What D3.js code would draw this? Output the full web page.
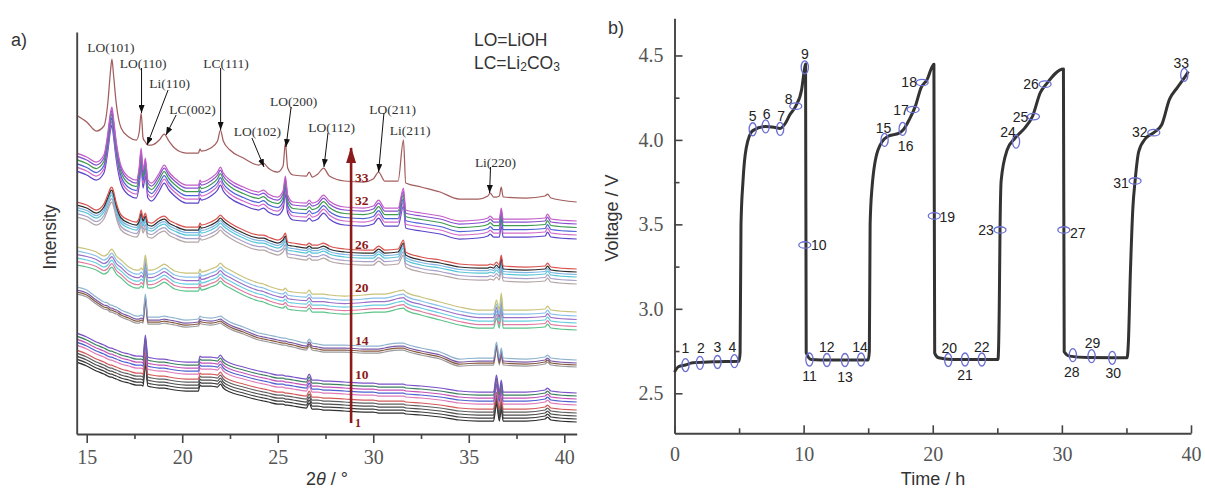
<!DOCTYPE html>
<html><head><meta charset="utf-8">
<script src="https://cdn.jsdelivr.net/npm/d3@7"></script>
<style>body{margin:0;background:#fff} svg{display:block}</style>
</head><body>
<svg id="chart" width="1205" height="489"></svg>
<script>
// ---------- Panel a: XRD patterns (intensity in arbitrary units) ----------
const twoTheta = [14.45,15.0,15.5,15.9,16.1,16.25,16.32,16.4,16.55,16.8,
  17.2,17.6,17.75,17.85,17.95,18.07,18.2,18.4,18.8,19.06,
  19.3,19.6,20.2,20.85,20.93,21.0,21.5,21.85,22.0,22.15,
  22.5,23.2,24.0,24.25,24.5,25.0,25.28,25.4,25.52,25.8,
  26.5,26.65,26.8,27.1,27.4,27.7,28.5,29.5,30.0,30.28,
  30.6,31.3,31.58,31.7,32.5,33.5,34.5,35.5,36.0,36.12,
  36.3,36.45,36.6,36.7,36.8,38.0,39.0,39.12,39.3,40.65];

const xrd33 = [319,312,303,308,330,364,375,360,330,306,
  297,294,302,321,296,292,289,289,294,300,
  293,286,281,281,285,283,286,293,304,293,
  284,276,269,271,266,262,268,291,266,259,
  258,262,257,260,266,258,253,252,255,262,
  253,253,294,251,247,242,235,235,238,241,
  237,237,238,247,237,236,238,240,236,232];

const xrd27to32 = [281,277,272,279,300,322,327,316,292,268,
  257,254,267,286,264,276,254,251,261,269,
  262,256,249,249,254,252,256,262,267,261,
  254,247,242,244,240,237,243,258,239,232,
  231,234,231,233,239,233,227,226,228,234,
  226,226,246,224,221,218,213,214,216,218,
  215,215,215,226,215,215,216,220,215,213];

const xrd21to26 = [232,229,224,230,239,246,247,243,231,219,
  214,212,216,224,216,221,212,211,216,218,
  214,211,207,207,211,209,212,216,219,216,
  211,204,199,199,197,194,197,201,192,191,
  189,191,189,189,191,188,185,184,184,188,
  184,185,194,182,177,174,170,169,169,170,
  169,172,169,179,168,167,168,171,167,165];

const xrd15to20 = [187,185,182,178,180,184,185,183,178,174,
  167,164,164,166,164,179,164,164,167,170,
  167,163,161,161,165,162,165,168,171,168,
  164,157,151,150,148,145,144,146,143,142,
  141,144,140,140,140,139,138,139,140,140,
  140,143,144,142,137,132,127,124,124,124,
  124,134,124,141,124,124,125,128,124,122];

const xrd11to14 = [147,144,137,132,131,129,129,128,127,124,
  121,118,118,119,118,140,117,117,117,118,
  117,116,114,115,118,117,116,117,118,116,
  112,107,101,100,99,97,96,96,95,94,
  91,95,91,90,89,89,89,88,88,88,
  89,91,91,90,86,82,75,76,76,76,
  76,92,76,86,76,75,77,79,76,74];

const xrd1to10 = [101,97,92,89,87,86,86,85,84,82,
  80,78,78,78,77,99,77,76,75,75,
  74,73,72,72,78,77,77,76,79,75,
  71,67,63,62,61,59,59,58,58,57,
  55,60,54,54,53,53,52,51,51,50,
  50,50,50,49,48,46,43,42,42,42,
  42,59,42,54,42,42,44,46,43,41];

// vertical shift of each measurement within its group (top curve first)
const shift33 = [0];
const shift27to32 = [0,3,6.5,10.5,14,18];
const shift21to26 = [0,3,5.5,8,11.5,15];
const shift15to20 = [0,4,7.5,11,14.5,18];
const shift11to14 = [0,3,5,7];
const shift1to10 = [0,3,6,9,12,17,20,23,26,29];

const colors33 = ['#a35d5d'];
const colors27to32 = ['#c45ec8','#8a4fd0','#3f9a4f','#4e63d6','#d26bc9','#5b45c8'];
const colors21to26 = ['#d9534f','#2f2f2f','#7fb6e6','#58c6d6','#a8a0c8','#b4a6a6'];
const colors15to20 = ['#c9c27a','#88c0e8','#9a70c8','#66cde0','#e07aa0','#5cc48a'];
const colors11to14 = ['#8fb4cf','#7a5aa8','#8a5a40','#9a9a9a'];
const colors1to10 = ['#7b52c7','#3c7f5e','#c452b5','#4f5fcf','#e07ab8','#d45a5a','#5f5f5f','#4c4c4c','#3d3d3d','#2e2e2e'];

const xTicksA = [15,20,25,30,35,40];
const xMinorA = [17.5,22.5,27.5,32.5,37.5];

const peakLabels = ['LO(101)','LO(110)','Li(110)','LC(002)','LC(111)','LO(102)','LO(200)','LO(112)','LO(211)','Li(211)','Li(220)'];
const peakLabelTheta = [16.27,17.95,19.34,20.54,22.29,23.94,25.83,27.82,31.01,31.93,36.40];
const peakLabelI = [387,371,351,325,371,303,333,307,325,304,272];
const peakArrowFrom = [null,[17.87,366],[19.26,344],[19.68,319],[22.01,366],[23.65,296],[25.70,327],[27.63,301],[30.56,321],null,[36.14,267]];
const peakArrowTo = [null,[17.87,321],[18.16,289],[19.15,299],[22.01,304],[24.28,267],[25.43,287],[27.42,267],[30.28,262],null,[36.09,241]];

const seqLabels = ['33','32','26','20','14','10','1'];
const seqLabelI = [257,234,190,147,94,60,11];
const seqArrowTheta = 28.84;
const seqArrowI = [11, 286];

// ---------- Panel b: voltage profile ----------
const timeH = [0,0.3,0.85,1.4,3,5.0,5.08,5.15,5.3,5.55,6.06,7.06,7.7,8.18,8.6,8.94,9.39,9.85,10.09,10.15,
  10.2,10.6,12,15.0,15.09,15.15,15.3,15.76,16.5,17.4,17.7,18.18,18.64,19.1,19.55,20.09,
  20.15,20.45,21.5,25.05,25.15,25.21,25.3,25.76,26.36,27.12,27.73,28.33,28.79,30.12,
  30.18,30.6,32,35.05,35.15,35.3,35.5,35.67,35.95,36.5,37.12,37.73,38.33,38.94,39.55,39.8];
const voltageV = [2.625,2.657,2.667,2.68,2.686,2.69,2.74,3.5,3.75,3.95,4.055,4.08,4.075,4.068,4.1,4.15,4.2,4.3,4.43,4.45,
  2.74,2.70,2.697,2.697,2.75,3.5,3.72,3.94,4.02,4.04,4.058,4.12,4.197,4.31,4.355,4.448,
  2.738,2.71,2.70,2.70,3.0,3.467,3.76,3.94,4.01,4.07,4.14,4.28,4.33,4.42,
  2.746,2.72,2.712,2.71,2.8,3.2,3.6,3.757,3.93,4.01,4.043,4.09,4.24,4.31,4.375,4.405];

const markerNo = d3.range(1,34);
const markerTime = [0.85,1.97,3.33,4.64,6.06,7.06,8.18,9.39,10.09,10.09,10.45,11.8,13.2,14.45,16.27,17.67,18.48,19.18,20.12,21.2,22.5,23.8,25.21,26.45,27.8,28.7,30.15,30.85,32.3,33.9,35.67,37.12,39.48];
const markerVoltage = [2.667,2.68,2.685,2.69,4.063,4.08,4.065,4.2,4.43,3.378,2.70,2.697,2.697,2.70,4.0,4.065,4.18,4.34,3.55,2.697,2.70,2.70,3.467,3.99,4.138,4.33,3.467,2.726,2.72,2.71,3.757,4.043,4.385];
const markerShape = ['v','v','v','v','v','v','v','h','v','h','v','v','v','v','v','v','h','h','h','v','v','v','h','v','h','h','h','v','v','v','h','h','v'];
const labelDx = [0,1,0,-2,0,1,1,-7,0,14,0,0,0,-1,-1,3,-12,-13,13,1,0,0,-14,-8,-13,-14,14,-1,1,1,-14,-14,-3];
const labelDy = [-17,-15,-15,-14,-13,-12,-13,-7,-13,0,17,-13,17,-12,-12,17,0,0,1,-12,16,-12,0,-10,0,0,3,17,-13,15,2,-1,-12];

const xTicksB = [0,10,20,30,40];
const xMinorB = [5,15,25,35];
const yTicksB = [2.5,3.0,3.5,4.0,4.5];
const yMinorB = [2.75,3.25,3.75,4.25];

// ================= drawing =================
const svg = d3.select('#chart');
svg.append('rect').attr('width',1205).attr('height',489).attr('fill','#fff');
const serif = 'Liberation Serif, Times New Roman, serif';
const sans = 'Liberation Sans, Arial, sans-serif';
const defs = svg.append('defs');
defs.append('marker').attr('id','ahBlack').attr('viewBox','0 0 8 6').attr('refX',8).attr('refY',3)
  .attr('markerWidth',8).attr('markerHeight',6).attr('markerUnits','userSpaceOnUse').attr('orient','auto')
  .append('path').attr('d','M0,0L8,3L0,6Z').attr('fill','#111');
defs.append('marker').attr('id','ahRed').attr('viewBox','0 0 16 10').attr('refX',15).attr('refY',5)
  .attr('markerWidth',16).attr('markerHeight',10).attr('markerUnits','userSpaceOnUse').attr('orient','auto')
  .append('path').attr('d','M0,0L16,5L0,10Z').attr('fill','#8b1a1a');

// ----- panel a -----
const xA = d3.scaleLinear().domain([14.476, 40.65]).range([76.7, 576.7]);
const yA = d3.scaleLinear().domain([0, 402]).range([434, 32]);
defs.append('clipPath').attr('id','clipA').append('rect').attr('x',77.5).attr('y',20).attr('width',499.5).attr('height',413);

const lineA = d3.line().x(d=>xA(d[0])).y(d=>yA(d[1])).curve(d3.curveMonotoneX);
const groups = [
  {p:xrd1to10, s:shift1to10, c:colors1to10},
  {p:xrd11to14, s:shift11to14, c:colors11to14},
  {p:xrd15to20, s:shift15to20, c:colors15to20},
  {p:xrd21to26, s:shift21to26, c:colors21to26},
  {p:xrd27to32, s:shift27to32, c:colors27to32},
  {p:xrd33, s:shift33, c:colors33}
];
const gCurves = svg.append('g').attr('clip-path','url(#clipA)');
groups.forEach(g=>{
  for (let k=g.s.length-1;k>=0;k--){
    const pts = twoTheta.map((t,i)=>[t, g.p[i]-g.s[k]]);
    gCurves.append('path').attr('d',lineA(pts)).attr('fill','none')
      .attr('stroke',g.c[k]).attr('stroke-width',1.25).attr('stroke-linejoin','round');
  }
});

// axes a
svg.append('g').attr('transform','translate(0,434)')
  .call(d3.axisBottom(xA).tickValues(xTicksA).tickSize(9).tickSizeOuter(0).tickPadding(7).tickFormat(d3.format('d')));
svg.append('g').attr('transform','translate(0,434)')
  .call(d3.axisBottom(xA).tickValues(xMinorA).tickSize(5).tickSizeOuter(0).tickFormat(''))
  .select('.domain').remove();
svg.append('g').attr('transform','translate(76.7,0)')
  .call(d3.axisLeft(yA).tickValues([]).tickSizeOuter(0));

// peak annotations
peakLabels.forEach((lab,i)=>{
  svg.append('text').attr('x',xA(peakLabelTheta[i])).attr('y',yA(peakLabelI[i]))
    .attr('text-anchor','middle').attr('dominant-baseline','central')
    .attr('font-family',serif).attr('font-size',13.5).attr('fill','#333').text(lab);
  if (peakArrowFrom[i]) {
    svg.append('line').attr('x1',xA(peakArrowFrom[i][0])).attr('y1',yA(peakArrowFrom[i][1]))
      .attr('x2',xA(peakArrowTo[i][0])).attr('y2',yA(peakArrowTo[i][1]))
      .attr('stroke','#111').attr('stroke-width',1).attr('marker-end','url(#ahBlack)');
  }
});

// sequence arrow
svg.append('line').attr('x1',xA(seqArrowTheta)).attr('x2',xA(seqArrowTheta))
  .attr('y1',yA(seqArrowI[0])).attr('y2',yA(seqArrowI[1]))
  .attr('stroke','#8b1a1a').attr('stroke-width',2.6).attr('marker-end','url(#ahRed)');
seqLabels.forEach((lab,i)=>{
  svg.append('text').attr('x',xA(seqArrowTheta)+4).attr('y',yA(seqLabelI[i]))
    .attr('dominant-baseline','central').attr('font-family',serif).attr('font-weight','bold')
    .attr('font-size',lab==='1'?12:13.5).attr('fill','#8b1a1a').text(lab);
});

// legend + titles a
svg.append('text').attr('x',474).attr('y',40).attr('dominant-baseline','central')
  .attr('font-family',sans).attr('font-size',17.5).attr('fill','#333').text('LO=LiOH');
const lc = svg.append('text').attr('x',474).attr('y',63).attr('dominant-baseline','central')
  .attr('font-family',sans).attr('font-size',17.5).attr('fill','#333');
lc.append('tspan').text('LC=Li');
lc.append('tspan').attr('font-size',12).attr('dy',4).text('2');
lc.append('tspan').attr('dy',-4).text('CO');
lc.append('tspan').attr('font-size',12).attr('dy',4).text('3');

svg.append('text').attr('x',11).attr('y',40).attr('dominant-baseline','central')
  .attr('font-family',sans).attr('font-size',18).attr('fill','#333').text('a)');
svg.append('text').attr('transform','translate(50,237) rotate(-90)').attr('text-anchor','middle')
  .attr('dominant-baseline','central').attr('font-family',sans).attr('font-size',17.5).attr('fill','#333').text('Intensity');
const xt = svg.append('text').attr('x',327).attr('y',479).attr('text-anchor','middle')
  .attr('dominant-baseline','central').attr('font-family',sans).attr('font-size',18).attr('fill','#333');
xt.append('tspan').text('2');
xt.append('tspan').attr('font-style','italic').text('θ');
xt.append('tspan').text(' / °');

// ----- panel b -----
const xB = d3.scaleLinear().domain([0,40]).range([674.5,1191]);
const yB = d3.scaleLinear().domain([2.263,4.72]).range([433.3,18.3]);

svg.append('g').attr('transform','translate(0,433.3)')
  .call(d3.axisBottom(xB).tickValues(xTicksB).tickSize(-8).tickSizeOuter(0).tickPadding(14).tickFormat(d3.format('d')));
svg.append('g').attr('transform','translate(0,433.3)')
  .call(d3.axisBottom(xB).tickValues(xMinorB).tickSize(-5).tickSizeOuter(0).tickFormat(''))
  .select('.domain').remove();
svg.append('g').attr('transform','translate(674.5,0)')
  .call(d3.axisLeft(yB).tickValues(yTicksB).tickSize(-8).tickSizeOuter(0).tickPadding(11).tickFormat(d3.format('.1f')));
svg.append('g').attr('transform','translate(674.5,0)')
  .call(d3.axisLeft(yB).tickValues(yMinorB).tickSize(-5).tickSizeOuter(0).tickFormat(''))
  .select('.domain').remove();

svg.selectAll('.domain').attr('stroke','#444').attr('stroke-width',1.9);
svg.selectAll('.tick line').attr('stroke','#444').attr('stroke-width',1.6);
svg.selectAll('.tick text').attr('font-family',serif).attr('font-size',20).attr('fill','#555');

const lineB = d3.line().x(d=>xB(d[0])).y(d=>yB(d[1])).curve(d3.curveMonotoneX);
svg.append('path').attr('d',lineB(timeH.map((t,i)=>[t,voltageV[i]])))
  .attr('fill','none').attr('stroke','#333').attr('stroke-width',3).attr('stroke-linejoin','round');

markerNo.forEach((n,i)=>{
  const cx = xB(markerTime[i]), cy = yB(markerVoltage[i]);
  const v = markerShape[i]==='v';
  svg.append('ellipse').attr('cx',cx).attr('cy',cy).attr('rx',v?3.6:6).attr('ry',v?6.5:3.2)
    .attr('fill','none').attr('stroke','#6b6fd2').attr('stroke-width',1.3);
  svg.append('text').attr('x',cx+labelDx[i]).attr('y',cy+labelDy[i])
    .attr('text-anchor','middle').attr('dominant-baseline','central')
    .attr('font-family',sans).attr('font-size',14).attr('fill','#222').text(n);
});

svg.append('text').attr('x',608).attr('y',28).attr('dominant-baseline','central')
  .attr('font-family',sans).attr('font-size',18).attr('fill','#333').text('b)');
svg.append('text').attr('transform','translate(612,218) rotate(-90)').attr('text-anchor','middle')
  .attr('dominant-baseline','central').attr('font-family',sans).attr('font-size',18).attr('fill','#333').text('Voltage / V');
svg.append('text').attr('x',933).attr('y',479).attr('text-anchor','middle')
  .attr('dominant-baseline','central').attr('font-family',sans).attr('font-size',18).attr('fill','#333').text('Time / h');
</script>
</body></html>
